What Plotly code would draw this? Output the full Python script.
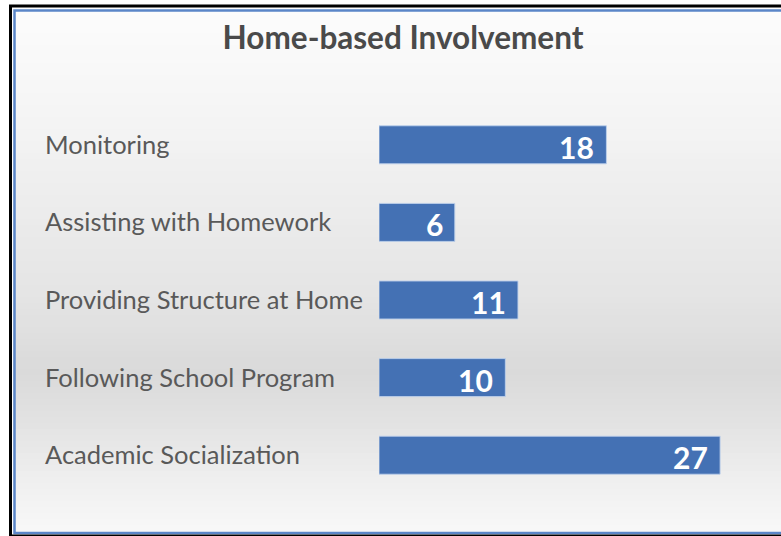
import plotly.graph_objects as go

# --- Data ---
categories = [
    "Monitoring",
    "Assisting with Homework",
    "Providing Structure at Home",
    "Following School Program",
    "Academic Socialization",
]
counts = [18, 6, 11, 10, 27]
title_text = "Home-based Involvement"

W, H = 781, 536
L, R, T, B = 379, 23, 106, 42
PW, PH = W - L - R, H - T - B

def px(x):
    return (x - L) / PW

def py(y):
    return (H - B - y) / PH

FONT = "Lato, Open Sans, sans-serif"

fig = go.Figure()
fig.add_trace(go.Bar(
    x=counts,
    y=categories,
    orientation="h",
    marker=dict(color="#4471b4", line=dict(color="rgba(190,208,235,0.9)", width=1)),
    hoverinfo="x+y",
))

# value labels, right-aligned inside the bar end
for cat, val in zip(categories, counts):
    fig.add_annotation(
        x=val, y=cat, xref="x", yref="y",
        text=f"<b>{val}</b>", showarrow=False,
        xanchor="right", yanchor="middle", xshift=-10, yshift=-2,
        font=dict(family=FONT, size=30, color="white"),
    )

# category labels, left-aligned
for cat in categories:
    fig.add_annotation(
        x=px(43), y=cat, xref="paper", yref="y",
        text=cat, showarrow=False,
        xanchor="left", yanchor="middle", yshift=1,
        font=dict(family=FONT, size=25.5, color="#595959"),
    )

# --- background gradient bands ---
stops = [(9, (252, 252, 252)), (100, (246, 246, 246)), (200, (237, 237, 237)),
         (300, (228, 228, 228)), (370, (218, 218, 218)), (420, (226, 226, 226)),
         (480, (239, 239, 239)), (533, (248, 248, 248))]

def shade(y):
    for (y0, c0), (y1, c1) in zip(stops, stops[1:]):
        if y0 <= y <= y1:
            f = (y - y0) / (y1 - y0)
            return tuple(round(a + (b - a) * f) for a, b in zip(c0, c1))
    return stops[-1][1]

shapes = []
step = 6
y = 9
while y < 533:
    y2 = min(y + step, 533)
    c = shade((y + y2) / 2)
    shapes.append(dict(
        type="rect", xref="paper", yref="paper", layer="below",
        x0=px(13), x1=px(790), y0=py(y), y1=py(y2 + 0.5),
        fillcolor=f"rgb{c}", line=dict(width=0),
    ))
    y = y2

# borders
shapes.append(dict(type="rect", xref="paper", yref="paper", layer="above",
                   x0=px(14.5), x1=px(790), y0=py(10.5), y1=py(533),
                   line=dict(color="#5b86c8", width=2.5), fillcolor="rgba(0,0,0,0)"))
shapes.append(dict(type="rect", xref="paper", yref="paper", layer="above",
                   x0=px(10.5), x1=px(792), y0=py(6), y1=py(536),
                   line=dict(color="black", width=3), fillcolor="rgba(0,0,0,0)"))

fig.update_layout(
    width=W, height=H,
    margin=dict(l=L, r=R, t=T, b=B),
    paper_bgcolor="white",
    plot_bgcolor="rgba(0,0,0,0)",
    showlegend=False,
    bargap=0.51,
    shapes=shapes,
    title=dict(
        text=f"<b>{title_text}</b>", x=403 / W, xanchor="center",
        y=1 - 38 / H, yanchor="middle",
        font=dict(family=FONT, size=31.5, color="#4a4a4a"),
    ),
    xaxis=dict(range=[0, 30], visible=False, fixedrange=True),
    yaxis=dict(autorange="reversed", visible=False, fixedrange=True),
)

fig.write_html("out.html", config={"displayModeBar": False},
               post_script="document.body.style.margin='0';")
